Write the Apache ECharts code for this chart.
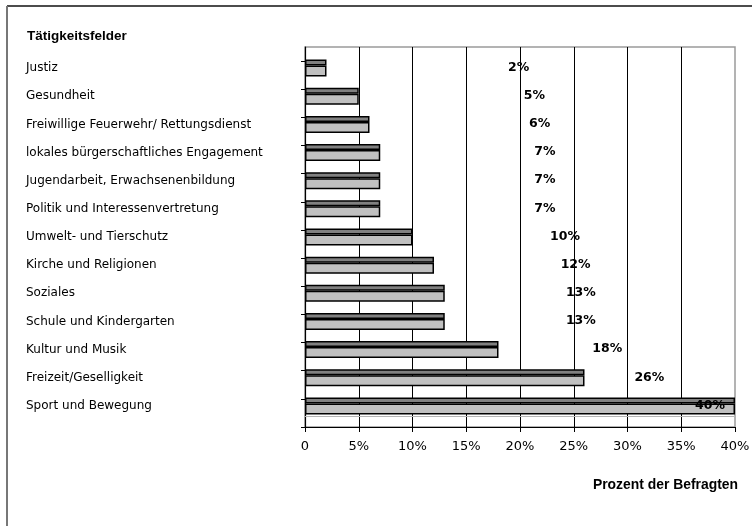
<!DOCTYPE html>
<html>
<head>
<meta charset="utf-8">
<script src="https://cdn.jsdelivr.net/npm/echarts@6/dist/echarts.min.js"></script>
<style>
html,body{margin:0;padding:0;background:#fff;}
#chart{width:755px;height:526px;}
</style>
</head>
<body>
<div id="chart"></div>
<script>
var categories = [
  'Justiz',
  'Gesundheit',
  'Freiwillige Feuerwehr/ Rettungsdienst',
  'lokales bürgerschaftliches Engagement',
  'Jugendarbeit, Erwachsenenbildung',
  'Politik und Interessenvertretung',
  'Umwelt- und Tierschutz',
  'Kirche und Religionen',
  'Soziales',
  'Schule und Kindergarten',
  'Kultur und Musik',
  'Freizeit/Geselligkeit',
  'Sport und Bewegung'
];
var values = [2, 5, 6, 7, 7, 7, 10, 12, 13, 13, 18, 26, 40];
var xTicks = [0, 5, 10, 15, 20, 25, 30, 35, 40];
var yAxisTitle = 'Tätigkeitsfelder';
var xAxisTitle = 'Prozent der Befragten';

var FONT_B = '"Liberation Sans", Arial, Helvetica, sans-serif';
var FONT_R = '"DejaVu Sans", "Liberation Sans", Arial, sans-serif';
var PLOT_LEFT = 305, PLOT_W = 430, XMAX = 40;
var pxPerUnit = PLOT_W / XMAX;

// label placement (as in the original Excel 3D chart, labels sit to the right, shifted)
var lightData = values.map(function (v) {
  var dx = pxPerUnit * (17.9 + 0.49 * v);
  dx = Math.min(dx, PLOT_W - 40);
  return {
    value: v,
    label: { position: [dx, 2] }
  };
});

var chart = echarts.init(document.getElementById('chart'), null, { renderer: 'canvas' });

var yTickVals = [];
for (var i = 0; i <= categories.length; i++) yTickVals.push(i);

var option = {
  backgroundColor: '#ffffff',
  animation: false,
  textStyle: { fontFamily: FONT_R },
  title: [
    {
      text: yAxisTitle,
      left: 22, top: 24,
      textStyle: { fontSize: 13.5, fontWeight: 'bold', color: '#000', fontFamily: FONT_B }
    },
    {
      text: xAxisTitle,
      right: 12, top: 473,
      textStyle: { fontSize: 13.9, fontWeight: 'bold', color: '#000', fontFamily: FONT_B }
    }
  ],
  graphic: [
    { type: 'line', shape: { x1: 7, y1: 6, x2: 752, y2: 6 }, style: { stroke: '#111', lineWidth: 1.5 }, silent: true },
    { type: 'line', shape: { x1: 7, y1: 6, x2: 7, y2: 530 }, style: { stroke: '#777', lineWidth: 2 }, silent: true }
  ],
  grid: [
    { left: PLOT_LEFT, top: 47, width: PLOT_W, height: 380, show: true, borderColor: '#9a9a9a', borderWidth: 1.5, containLabel: false },
    { left: PLOT_LEFT, top: 54, width: PLOT_W, height: 366, containLabel: false }
  ],
  xAxis: [
    {
      gridIndex: 0, type: 'value', min: xTicks[0], max: xTicks[xTicks.length - 1], interval: 5,
      axisLine: { show: true, lineStyle: { color: '#000', width: 1.2 } },
      axisTick: { show: true, length: 5, lineStyle: { color: '#000' } },
      axisLabel: {
        margin: 13, fontSize: 13, color: '#000', fontFamily: FONT_R,
        formatter: function (v) { return v === 0 ? '0' : v + '%'; }
      },
      splitLine: { show: true, showMinLine: false, showMaxLine: false, lineStyle: { color: '#000', width: 1 } }
    },
    {
      gridIndex: 1, type: 'value', min: 0, max: XMAX, offset: -4,
      axisLine: { show: true, lineStyle: { color: '#b5b5b5', width: 1 } },
      axisTick: { show: false }, axisLabel: { show: false }, splitLine: { show: false }
    }
  ],
  yAxis: [
    {
      gridIndex: 0, type: 'value', min: 0, max: categories.length + 0.5, interval: 1,
      axisLine: { show: true, lineStyle: { color: '#000', width: 1.2 } },
      axisTick: { show: true, length: 4, customValues: yTickVals, lineStyle: { color: '#000' } },
      axisLabel: { show: false },
      splitLine: { show: false }
    },
    {
      gridIndex: 1, type: 'category', inverse: true, data: categories,
      axisLine: { show: false }, axisTick: { show: false }, splitLine: { show: false },
      axisLabel: { align: 'left', margin: 279, fontSize: 12, color: '#000', fontFamily: FONT_R, padding: [3, 0, 0, 0] }
    }
  ],
  series: [
    {
      name: 'top', type: 'bar', xAxisIndex: 1, yAxisIndex: 1,
      data: values, barWidth: 6, barGap: '0%',
      itemStyle: { color: '#808080', borderColor: '#000', borderWidth: 1.5 },
      silent: true
    },
    {
      name: 'front', type: 'bar', xAxisIndex: 1, yAxisIndex: 1,
      data: lightData, barWidth: 11, barGap: '0%',
      itemStyle: { color: '#c0c0c0', borderColor: '#000', borderWidth: 1.5 },
      label: {
        show: true, align: 'left', verticalAlign: 'middle',
        fontSize: 12.5, fontWeight: 'bold', color: '#000', fontFamily: FONT_R,
        formatter: function (p) { return p.value + '%'; }
      },
      silent: true
    }
  ]
};
chart.setOption(option);
</script>
</body>
</html>
